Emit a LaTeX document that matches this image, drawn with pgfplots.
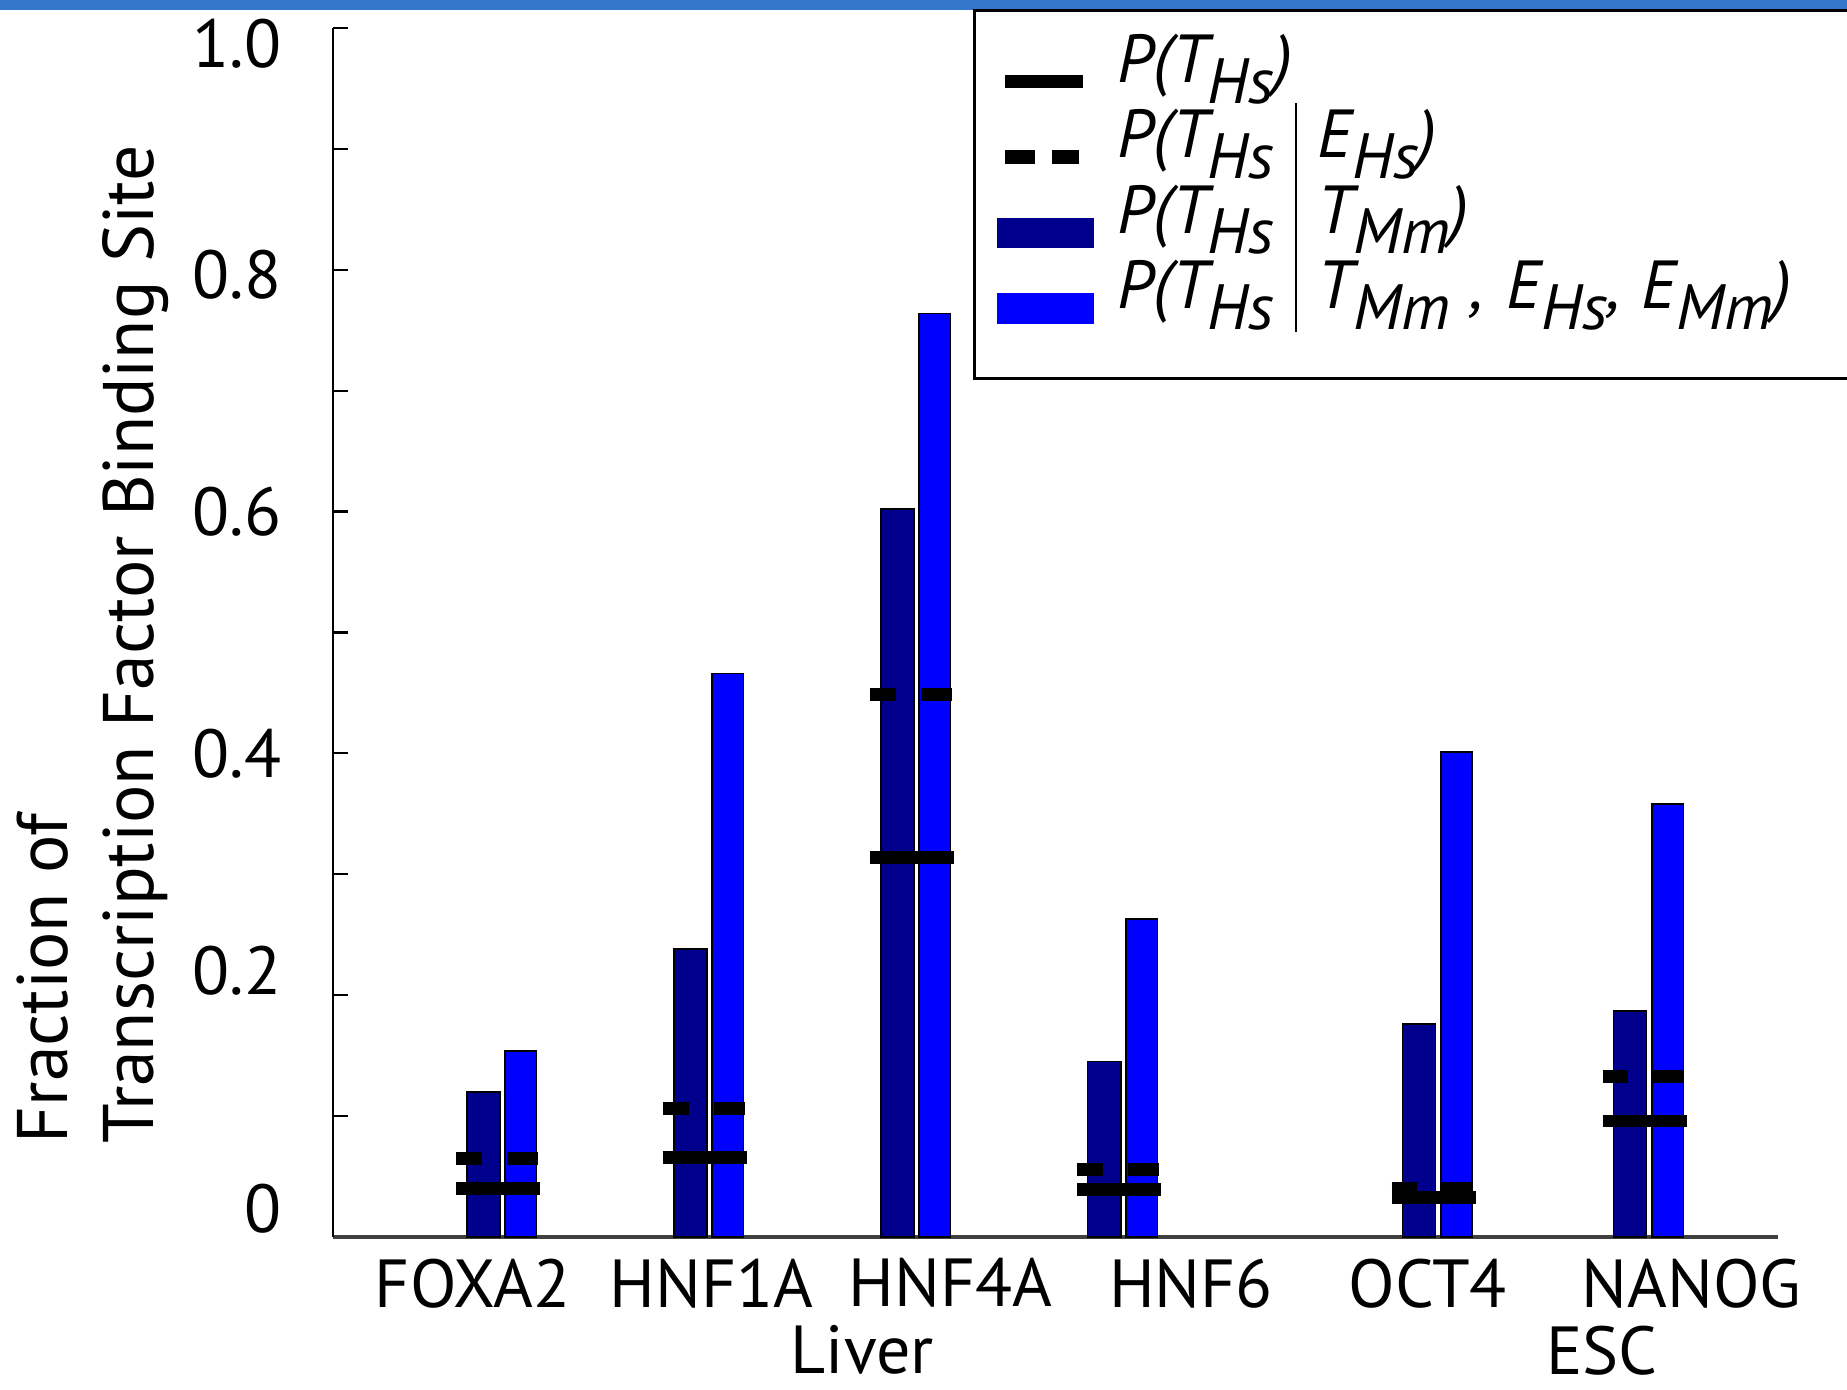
\documentclass[border=0pt]{standalone}
\usepackage{fontspec}
\setmainfont{PT Sans}
\usepackage{pgfplots}
\pgfplotsset{compat=1.18}
\definecolor{darkbar}{RGB}{0,0,140}
\definecolor{lightbar}{RGB}{0,0,255}
\definecolor{bandblue}{RGB}{50,119,201}
\newcommand{\sbx}[1]{\raisebox{-0.3em}{\fontsize{16}{16}\selectfont #1}}
\newcommand{\vb}{\hspace{0.3em}\rule[-0.34em]{0.6pt}{1.15em}\hspace{0.3em}}
\newcommand{\fs}{\fontsize{17}{20}\selectfont}
\newcommand{\fy}{\fontsize{17.9}{21}\selectfont}
\begin{document}
\begin{tikzpicture}
\fill[bandblue] (-83.25pt,306.8pt) rectangle (378.5pt,309.25pt);
\begin{axis}[
  at={(0pt,0pt)}, anchor=south west,
  scale only axis, width=361.25pt, height=302.25pt,
  xmin=0.181, xmax=7.162, ymin=0, ymax=1,
  axis x line=bottom, axis y line=left,
  x axis line style={-, draw=black!75, line width=0.9pt},
  y axis line style={-, draw=black, line width=0.55pt},
  clip=false,
  xtick={0.855,2.010,3.165,4.326,5.470,6.744},
  xticklabels={FOXA2,HNF1A,HNF4A,HNF6,OCT4,NANOG},
  xtick style={draw=none},
  ytick={0,0.1,0.2,0.3,0.4,0.5,0.6,0.7,0.8,0.9,1.0},
  yticklabels={\raisebox{7pt}[\height][\depth]{0},,\raisebox{6pt}[\height][\depth]{0.2},,0.4,,0.6,,\raisebox{-1.25pt}[\height][\depth]{0.8},,\raisebox{-4pt}[\height][\depth]{1.0}},
  ytick style={draw=black, line width=0.55pt},
  tick align=inside, major tick length=3.75pt,
  tick label style={font=\fs},
  xticklabel style={anchor=north, inner sep=0pt, yshift=-5.2pt},
  yticklabel style={anchor=east, inner sep=0pt, xshift=-12.75pt},
  legend cell align=left,
  legend style={at={(0.4429,1.0157)}, anchor=north west, draw=black, line width=0.8pt, fill=white,
    inner xsep=5.5pt, inner ysep=9pt, row sep=1.35pt, column sep=6pt, font=\fs,
    nodes={inner sep=0pt, text height=9pt, text depth=8.5pt, text width=177.5pt, align=left}},
]
\addlegendimage{legend image code/.code={\draw[black,line width=3.4pt] (0pt,0pt) -- (19.4pt,0pt);}}
\addlegendentry{\textit{P(T\sbx{Hs})}}
\addlegendimage{legend image code/.code={\draw[black,line width=3.4pt,dash pattern=on 7.5pt off 4.1pt] (0pt,0pt) -- (18.4pt,0pt);}}
\addlegendentry{\textit{P(T\sbx{Hs}\vb E\sbx{Hs})}}
\addlegendimage{legend image code/.code={\fill[darkbar] (-1.8pt,-3.6pt) rectangle (21.7pt,3.2pt);}}
\addlegendentry{\textit{P(T\sbx{Hs}\vb T\sbx{Mm})}}
\addlegendimage{legend image code/.code={\fill[lightbar] (-1.8pt,-3.6pt) rectangle (21.7pt,3.2pt);}}
\addlegendentry{\textit{P(T\sbx{Hs}\vb T\sbx{Mm}\hspace{0.3em}, E\sbx{Hs},\hspace{0.3em}E\sbx{Mm})}}

% P(T_Hs | T_Mm)
\addplot[ybar, bar width=0.16, bar shift=-0.093, fill=darkbar, draw=black, line width=0.4pt, forget plot]
  coordinates {(1,0.120) (2,0.238) (3,0.602) (4,0.145) (5.52,0.176) (6.54,0.187)};
% P(T_Hs | T_Mm, E_Hs, E_Mm)
\addplot[ybar, bar width=0.152, bar shift=0.089, fill=lightbar, draw=black, line width=0.4pt, forget plot]
  coordinates {(1,0.154) (2,0.466) (3,0.764) (4,0.263) (5.52,0.401) (6.54,0.358)};
% P(T_Hs)
\addplot[black, line width=3.2pt, unbounded coords=jump, forget plot] coordinates {
  (0.775,0.040) (1.181,0.040) (1.5,nan)
  (1.775,0.066) (2.181,0.066) (2.5,nan)
  (2.775,0.314) (3.181,0.314) (3.5,nan)
  (3.775,0.0395) (4.181,0.0395) (4.5,nan)
  (5.295,0.033) (5.701,0.033) (6,nan)
  (6.315,0.096) (6.721,0.096)};
% P(T_Hs | E_Hs)
\addplot[black, line width=3.2pt, dash pattern=on 6.4pt off 6.3pt on 8pt off 6pt, unbounded coords=jump, forget plot] coordinates {
  (0.775,0.065) (1.17,0.065) (1.5,nan)
  (1.775,0.106) (2.17,0.106) (2.5,nan)
  (2.775,0.449) (3.17,0.449) (3.5,nan)
  (3.775,0.056) (4.17,0.056) (4.5,nan)
  (5.295,0.040) (5.69,0.040) (6,nan)
  (6.315,0.133) (6.71,0.133)};

\node[rotate=90, anchor=base west, inner sep=0pt, font=\fy] at (rel axis cs:-0.18339,0.07692) {Fraction of};
\node[rotate=90, anchor=base west, inner sep=0pt, font=\fy] at (rel axis cs:-0.12388,0.07692) {Transcription Factor Binding Site};
\node[anchor=north, inner sep=0pt, yshift=-22pt, font=\fs] at (axis cs:2.738,0) {Liver};
\node[anchor=north, inner sep=0pt, yshift=-22pt, font=\fs] at (axis cs:6.312,0) {ESC};
\end{axis}
\pgfresetboundingbox
\useasboundingbox (-83.25pt,-38pt) rectangle (378.5pt,309.25pt);
\end{tikzpicture}
\end{document}
